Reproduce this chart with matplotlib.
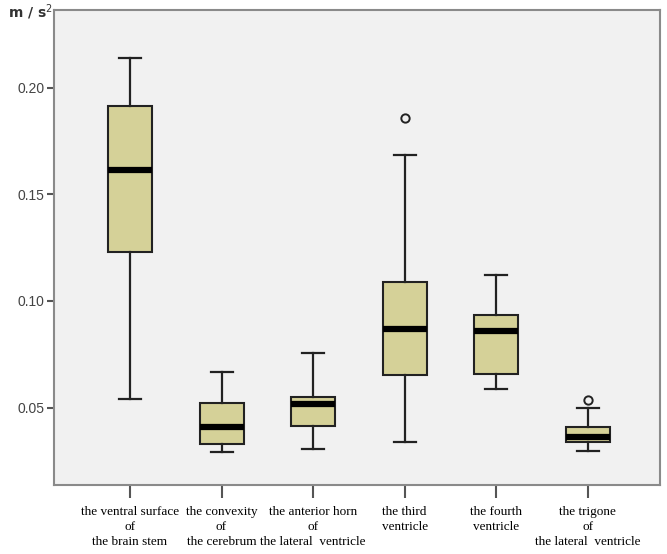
import matplotlib
matplotlib.use("Agg")
import matplotlib.pyplot as plt

# Categories (x tick labels)
labels = [
    "the ventral surface\nof\nthe brain stem",
    "the convexity\nof\nthe cerebrum",
    "the anterior horn\nof\nthe lateral  ventricle",
    "the third\nventricle",
    "the fourth\nventricle",
    "the trigone\nof\nthe lateral  ventricle",
]

# Box statistics (m / s^2)
whisker_low = [0.0542, 0.0293, 0.0305, 0.0340, 0.0586, 0.0296]
q1 = [0.1228, 0.0329, 0.0413, 0.0651, 0.0656, 0.0340]
median = [0.1614, 0.0407, 0.0515, 0.0869, 0.0861, 0.0362]
q3 = [0.1913, 0.0522, 0.0550, 0.1087, 0.0935, 0.0410]
whisker_high = [0.2139, 0.0667, 0.0757, 0.1684, 0.1121, 0.0500]
outliers = [[], [], [], [0.1857], [], [0.0537]]

yticks = [0.05, 0.10, 0.15, 0.20]

stats = []
for i, lab in enumerate(labels):
    stats.append({
        "label": lab,
        "whislo": whisker_low[i],
        "q1": q1[i],
        "med": median[i],
        "q3": q3[i],
        "whishi": whisker_high[i],
        "fliers": outliers[i],
    })

fig = plt.figure(figsize=(6.67, 5.54), dpi=100)
ax = fig.add_axes([0.081, 0.124, 0.9085, 0.858])
ax.set_facecolor("#f1f1f1")

ax.bxp(
    stats,
    positions=range(1, len(stats) + 1),
    widths=0.48,
    patch_artist=True,
    boxprops=dict(facecolor="#d5d198", edgecolor="#222222", linewidth=1.5),
    medianprops=dict(color="black", linewidth=4.5, solid_capstyle="butt"),
    whiskerprops=dict(color="#222222", linewidth=1.6),
    capprops=dict(color="#222222", linewidth=1.6),
    capwidths=0.24,
    flierprops=dict(marker="o", markersize=6, markerfacecolor="none",
                    markeredgecolor="#222222", markeredgewidth=1.4),
)

ax.set_xlim(0.17, 6.79)
ax.set_ylim(0.0136, 0.2364)
ax.set_yticks(yticks)
ax.set_yticklabels([f"{t:.2f}" for t in yticks])

for side in ax.spines.values():
    side.set_color("#8a8a8a")
    side.set_linewidth(1.5)

ax.tick_params(axis="y", direction="out", length=5, width=1.5,
               color="#555555", labelsize=10, labelcolor="#444444", pad=2)
ax.tick_params(axis="x", direction="out", length=9, width=1.5,
               color="#555555", pad=6)
for t in ax.get_yticklabels():
    t.set_fontfamily("Liberation Sans")
for t in ax.get_xticklabels():
    t.set_fontfamily("Liberation Serif")
    t.set_fontsize(9.5)
    t.set_linespacing(1.35)
    t.set_verticalalignment("top")

fig.text(0.012, 0.978, r"m / s$^2$", fontsize=10, fontweight="bold",
         color="#333333", va="center", ha="left")

fig.savefig("out.png", dpi=100, facecolor="white")
